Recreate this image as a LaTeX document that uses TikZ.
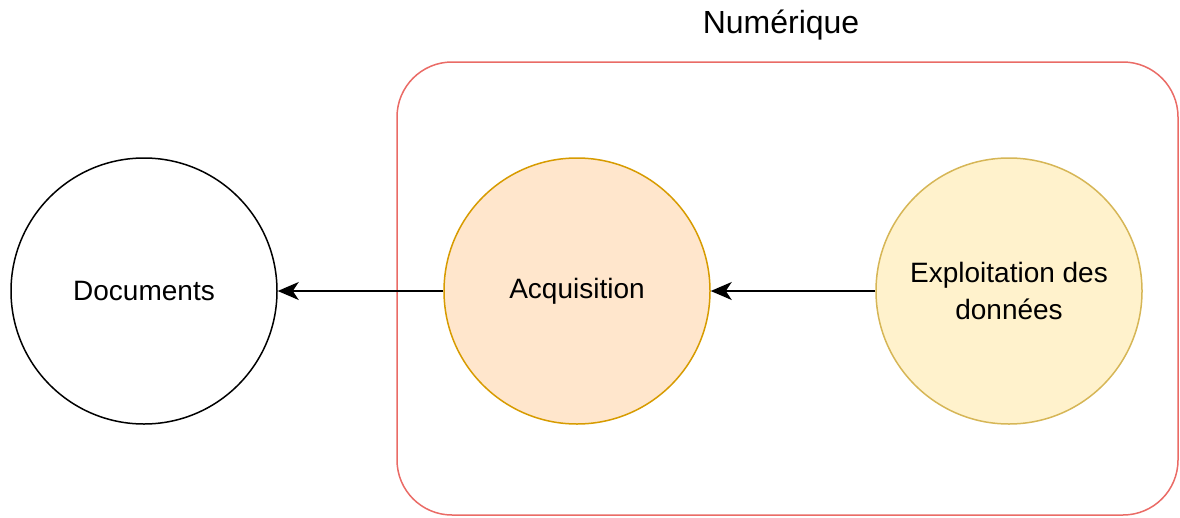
\documentclass[tikz,border=0pt]{standalone}
\usepackage{fontspec}
\setmainfont{Liberation Sans}
\usetikzlibrary{arrows.meta}
\definecolor{boxred}{HTML}{EA6B66}
\definecolor{acqfill}{HTML}{FFE6CC}
\definecolor{acqline}{HTML}{D79B00}
\definecolor{expfill}{HTML}{FFF2CC}
\definecolor{expline}{HTML}{D6B656}
\begin{document}
\begin{tikzpicture}[x=1pt,y=-1pt,>={Stealth[length=21pt,width=18pt,inset=6pt]},line join=round,
	rond/.style={circle,draw,line width=1.5pt,minimum size=266pt,inner sep=0pt,align=center,font=\fontsize{28}{37}\selectfont},
	fleche/.style={->,line width=1.6pt}]
		\useasboundingbox (0,0) rectangle (1180,517);
		\draw[boxred,line width=1.5pt,rounded corners=55pt] (397,62) rectangle (1178,515);
		\node (num) at (781,25) {\fontsize{32}{38}\selectfont Numérique};
		\node[rond] (doc) at (144,291) {Documents};
		\node[rond,fill=acqfill,draw=acqline] (acq) at (577,291) {Acquisition};
		\node[rond,fill=expfill,draw=expline] (exp) at (1009,291) {Exploitation des\\données};
		\draw[fleche] (acq) -- (doc);
		\draw[fleche] (exp) -- (acq);
		\end{tikzpicture}
\end{document}
